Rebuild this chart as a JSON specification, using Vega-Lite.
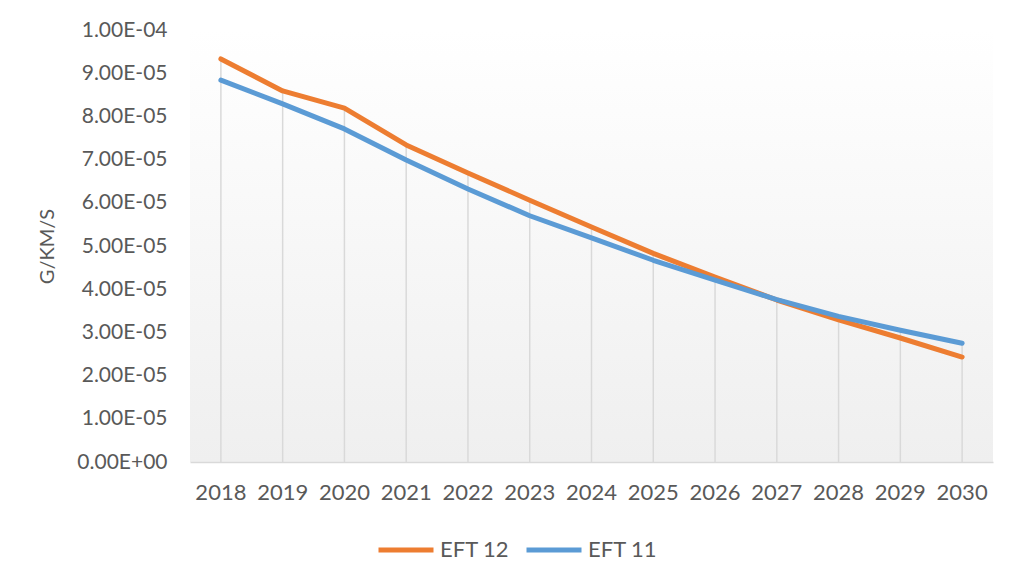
{
  "$schema": "https://vega.github.io/schema/vega-lite/v6.json",
  "width": 803,
  "height": 432,
  "autosize": "none",
  "padding": {"left": 190, "top": 30, "right": 31, "bottom": 126},
  "background": "#ffffff",
  "config": {
    "font": "Lato",
    "view": {
      "stroke": null,
      "fill": {"gradient": "linear", "x1": 0, "y1": 0, "x2": 0, "y2": 1,
        "stops": [{"offset": 0, "color": "#ffffff"}, {"offset": 1, "color": "#efefef"}]}
    }
  },
  "data": {
    "values": [
      {"year": "2018", "series": "EFT 12", "value": 9.33e-5},
      {"year": "2019", "series": "EFT 12", "value": 8.59e-5},
      {"year": "2020", "series": "EFT 12", "value": 8.19e-5},
      {"year": "2021", "series": "EFT 12", "value": 7.34e-5},
      {"year": "2022", "series": "EFT 12", "value": 6.69e-5},
      {"year": "2023", "series": "EFT 12", "value": 6.06e-5},
      {"year": "2024", "series": "EFT 12", "value": 5.44e-5},
      {"year": "2025", "series": "EFT 12", "value": 4.83e-5},
      {"year": "2026", "series": "EFT 12", "value": 4.28e-5},
      {"year": "2027", "series": "EFT 12", "value": 3.75e-5},
      {"year": "2028", "series": "EFT 12", "value": 3.29e-5},
      {"year": "2029", "series": "EFT 12", "value": 2.87e-5},
      {"year": "2030", "series": "EFT 12", "value": 2.43e-5},
      {"year": "2018", "series": "EFT 11", "value": 8.84e-5},
      {"year": "2019", "series": "EFT 11", "value": 8.29e-5},
      {"year": "2020", "series": "EFT 11", "value": 7.71e-5},
      {"year": "2021", "series": "EFT 11", "value": 6.99e-5},
      {"year": "2022", "series": "EFT 11", "value": 6.32e-5},
      {"year": "2023", "series": "EFT 11", "value": 5.70e-5},
      {"year": "2024", "series": "EFT 11", "value": 5.19e-5},
      {"year": "2025", "series": "EFT 11", "value": 4.67e-5},
      {"year": "2026", "series": "EFT 11", "value": 4.21e-5},
      {"year": "2027", "series": "EFT 11", "value": 3.76e-5},
      {"year": "2028", "series": "EFT 11", "value": 3.37e-5},
      {"year": "2029", "series": "EFT 11", "value": 3.05e-5},
      {"year": "2030", "series": "EFT 11", "value": 2.75e-5}
    ]
  },
  "encoding": {
    "x": {
      "field": "year", "type": "ordinal",
      "scale": {"type": "band", "paddingInner": 0, "paddingOuter": 0},
      "axis": {
        "title": null, "labelAngle": 0, "ticks": false,
        "domainColor": "#d9d9d9", "domainWidth": 1.5,
        "labelFont": "Lato", "labelFontSize": 22, "labelColor": "#595959",
        "labelPadding": 20
      }
    }
  },
  "layer": [
    {
      "mark": {"type": "rule", "color": "#d9d9d9", "strokeWidth": 1.5},
      "encoding": {
        "y": {"aggregate": "max", "field": "value", "type": "quantitative"},
        "y2": {"datum": 0}
      }
    },
    {
      "mark": {"type": "line", "strokeWidth": 5, "interpolate": "linear", "strokeCap": "round", "strokeJoin": "round"},
      "encoding": {
        "y": {
          "field": "value", "type": "quantitative",
          "scale": {"domain": [0, 0.0001], "nice": false},
          "axis": {
            "title": "G/KM/S", "titleFont": "Lato", "titleFontSize": 20, "titleFontWeight": "normal",
            "titleColor": "#595959", "titlePadding": 19,
            "values": [0, 0.00001, 0.00002, 0.00003, 0.00004, 0.00005, 0.00006, 0.00007, 0.00008, 0.00009, 0.0001],
            "labelExpr": "replace(replace(format(datum.value, '.2e'), 'e-', 'E-0'), 'e+', 'E+0')",
            "labelFont": "Lato", "labelFontSize": 21, "labelColor": "#595959",
            "labelPadding": 23, "ticks": false, "domain": false, "grid": false
          }
        },
        "color": {
          "field": "series", "type": "nominal",
          "scale": {"domain": ["EFT 12", "EFT 11"], "range": ["#ED7D31", "#5B9BD5"]},
          "legend": {
            "title": null, "orient": "none", "direction": "horizontal",
            "legendX": 186, "legendY": 490,
            "symbolType": "stroke", "symbolSize": 3025, "symbolStrokeWidth": 5,
            "labelFont": "Lato", "labelFontSize": 22, "labelColor": "#595959",
            "labelOffset": 4, "columnPadding": 6
          }
        }
      }
    }
  ]
}
